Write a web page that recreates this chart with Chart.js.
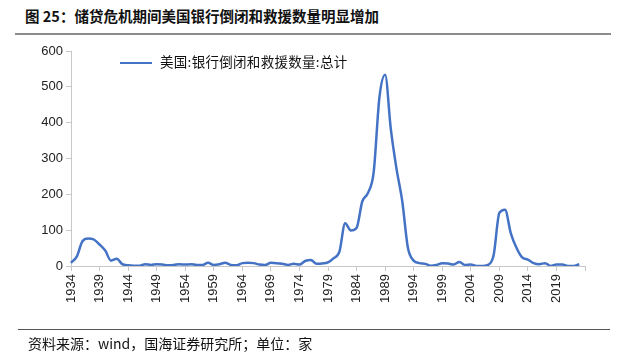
<!DOCTYPE html>
<html>
<head>
<meta charset="utf-8">
<script src="https://cdn.jsdelivr.net/npm/chart.js@4.4.0/dist/chart.umd.min.js"></script>
<style>
  body { margin: 0; width: 625px; height: 364px; background: #fff; position: relative; overflow: hidden; font-family: "Liberation Sans", Arial, sans-serif; }
  #titulo { position: absolute; left: 25px; top: 5px; font: bold 14.5px "Noto Sans CJK SC", sans-serif; color: #111; }
  #linea1 { position: absolute; left: 15px; top: 33px; width: 596px; height: 0; border-top: 2px solid #8c8c8c; }
  #leyenda { position: absolute; left: 120px; top: 51px; font: 13.5px "Noto Sans CJK SC", serif; color: #111; letter-spacing: 0.3px; }
  #leyenda span { display: inline-block; width: 32px; height: 0; border-top: 2.5px solid #4472c4; vertical-align: middle; margin-right: 8px; }
  #grafico { position: absolute; left: 0; top: 0; }
  #linea2 { position: absolute; left: 18px; top: 329px; width: 592px; height: 0; border-top: 1.5px solid #555; }
  #fuente { position: absolute; left: 28px; top: 333px; font: 14px "Noto Sans CJK SC", sans-serif; color: #111; }
</style>
</head>
<body>
<div id="titulo">图 25：储贷危机期间美国银行倒闭和救援数量明显增加</div>
<div id="linea1"></div>
<canvas id="grafico" width="625" height="330"></canvas>
<div id="leyenda"><span></span>美国:银行倒闭和救援数量:总计</div>
<div id="linea2"></div>
<div id="fuente">资料来源：wind，国海证券研究所；单位：家</div>
<script>
// años
var anios = [];
for (var a = 1934; a <= 2024; a++) anios.push(String(a));

// bancos cerrados y asistidos por año (1934-2023)
var quiebras = [
  9, 26, 69, 77, 74, 60, 43, 15, 20, 5,
  2, 1, 1, 5, 3, 5, 4, 2, 3, 5,
  4, 5, 3, 3, 9, 3, 5, 9, 3, 2,
  8, 9, 8, 4, 3, 9, 8, 6, 3, 6,
  4, 14, 17, 6, 7, 10, 22, 40, 119, 99,
  106, 180, 204, 262, 470, 534, 382, 271, 181, 50,
  15, 8, 6, 1, 3, 8, 7, 4, 11, 3,
  4, 0, 0, 3, 30, 148, 157, 92, 51, 24,
  18, 8, 5, 8, 0, 4, 4, 0, 0, 5,
  null
];

var ticksY = [0, 100, 200, 300, 400, 500, 600];

const ctx = document.getElementById('grafico');

new Chart(ctx, {
  type: 'line',
  data: {
    labels: anios,
    datasets: [{
      label: '美国:银行倒闭和救援数量:总计',
      data: quiebras,
      borderColor: '#4472c4',
      borderWidth: 2.5,
      pointRadius: 0,
      tension: 0.4,
      cubicInterpolationMode: 'monotone',
      fill: false
    }]
  },
  options: {
    responsive: false,
    animation: false,
    layout: { padding: { left: 0, right: 40, top: 51, bottom: 0 } },
    plugins: { legend: { display: false }, tooltip: { enabled: false } },
    scales: {
      x: {
        afterFit: function (s) { s.height = 64; },
        border: { color: '#c8c8c8', width: 1 },
        grid: {
          drawOnChartArea: false,
          drawTicks: true,
          tickLength: 5,
          color: function (c) { return c.index % 5 === 0 ? '#c8c8c8' : 'rgba(0,0,0,0)'; }
        },
        ticks: {
          autoSkip: false,
          maxRotation: 90,
          minRotation: 90,
          padding: 3,
          color: '#222',
          font: { family: '"Liberation Sans", Arial', size: 13 },
          callback: function (v, i) {
            var y = Number(anios[i]);
            return ((y - 1934) % 5 === 0 && y < 2024) ? anios[i] : '';
          }
        }
      },
      y: {
        min: 0,
        max: 600,
        afterFit: function (s) { s.width = 71; },
        afterBuildTicks: function (s) { s.ticks = ticksY.map(function (v) { return { value: v }; }); },
        border: { color: '#c8c8c8', width: 1 },
        grid: { drawOnChartArea: false, drawTicks: true, tickLength: 5, color: '#c8c8c8' },
        ticks: {
          padding: 3,
          color: '#222',
          font: { family: '"Liberation Sans", Arial', size: 13 }
        }
      }
    }
  }
});
</script>
</body>
</html>
